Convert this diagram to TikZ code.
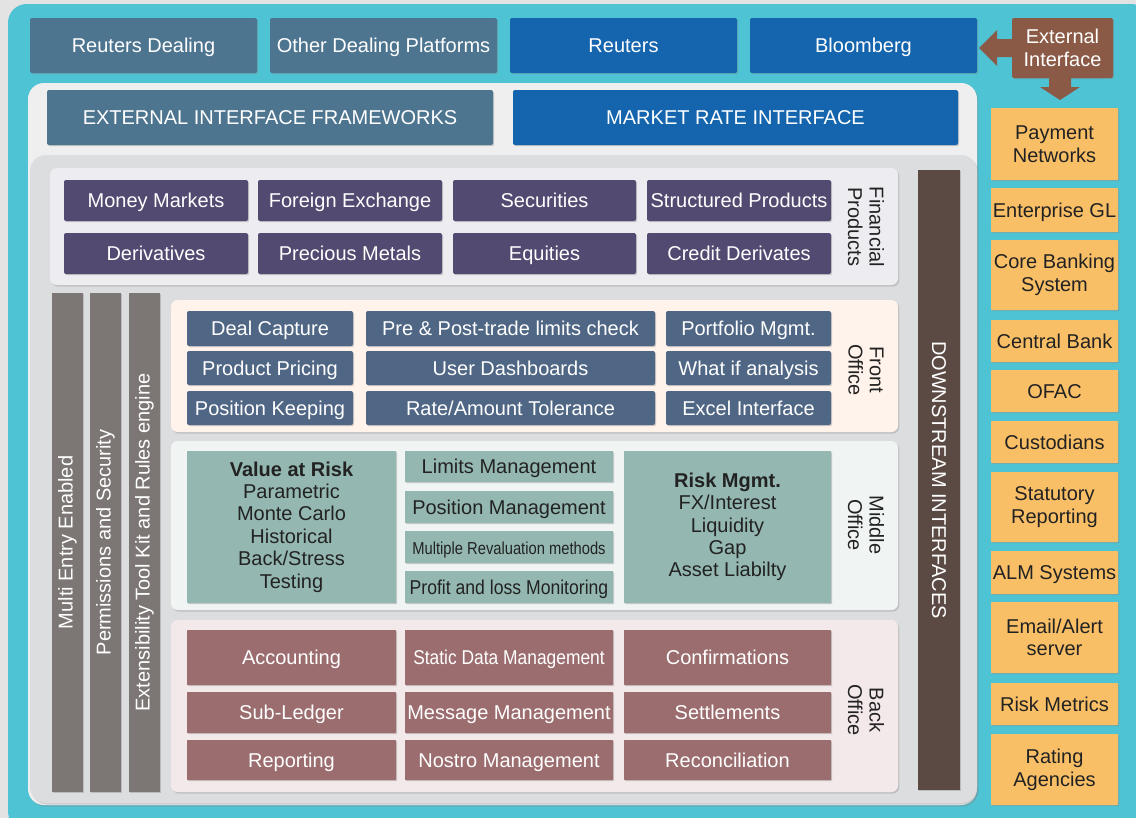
\documentclass[tikz,border=0pt]{standalone}
\usepackage{fontspec}
\usepackage{graphicx}
\setmainfont{Liberation Sans}
\usetikzlibrary{shadows}
\definecolor{bggray}{HTML}{E3E3E3}
\definecolor{cyanbg}{HTML}{4EC3D4}
\definecolor{steel}{HTML}{4E7590}
\definecolor{blueb}{HTML}{1565AE}
\definecolor{brownext}{HTML}{8A5A46}
\definecolor{panelwhite}{HTML}{EFEFF0}
\definecolor{panelgray}{HTML}{DCDDDF}
\definecolor{finpanel}{HTML}{ECECF1}
\definecolor{purpleb}{HTML}{524A70}
\definecolor{frontpanel}{HTML}{FFF3EB}
\definecolor{frontbox}{HTML}{506685}
\definecolor{midpanel}{HTML}{F0F4F3}
\definecolor{tealb}{HTML}{94B8B1}
\definecolor{backpanel}{HTML}{F3E9EB}
\definecolor{backbox}{HTML}{9B6D6F}
\definecolor{bargray}{HTML}{7C7774}
\definecolor{downbrown}{HTML}{5B4A44}
\definecolor{orangeb}{HTML}{F9BF67}
\definecolor{darktext}{HTML}{222222}
\newcommand\mybox[7]{\node[#1, minimum width={(#5-#3)*0.75pt}, minimum height={(#6-#4)*0.75pt}] (#2) at ({(#3+#5)/2},{(#4+#6)/2}) {#7};}
\tikzset{
  bx/.style={rectangle, rounded corners=1.5pt, inner sep=0pt, outer sep=0pt,
    text=white, font=\fontsize{15}{17}\selectfont, align=center,
    text height=10.7pt, text depth=0pt,
    drop shadow={shadow xshift=0.8pt, shadow yshift=-0.9pt, opacity=0.35}},
  ml/.style={text height=, text depth=},
  panel/.style={rectangle, rounded corners=5pt, inner sep=0pt, outer sep=0pt,
    drop shadow={shadow xshift=1pt, shadow yshift=-1.2pt, opacity=0.3}},
  plabel/.style={font=\fontsize{15}{16}\selectfont, text=darktext, align=center, inner sep=0pt},
  vlabel/.style={font=\fontsize{15}{17}\selectfont, text=white, inner sep=0pt},
}
\begin{document}
\begin{tikzpicture}[x=0.75pt,y=-0.75pt]
\useasboundingbox (0,0) rectangle (1136,818);
\fill[bggray] (0,0) rectangle (1136,818);
\fill[cyanbg, rounded corners=14pt] (8,4) rectangle (1150,830);
% top row
\mybox{bx, fill=steel}{rd}{30}{18}{257}{73}{Reuters Dealing}
\mybox{bx, fill=steel}{odp}{270}{18}{497}{73}{Other Dealing Platforms}
\mybox{bx, fill=blueb}{reu}{510}{18}{737}{73}{Reuters}
\mybox{bx, fill=blueb}{bbg}{750}{18}{977}{73}{Bloomberg}
\mybox{bx, ml, fill=brownext}{ext}{1012}{18}{1113}{78}{External\\Interface}
% arrows
\fill[brownext] (979,48) -- (997,30) -- (997,39) -- (1012,39) -- (1012,57) -- (997,57) -- (997,66) -- cycle;
\fill[brownext] (1049,78) -- (1071,78) -- (1071,87) -- (1080,87) -- (1060,100) -- (1040,87) -- (1049,87) -- cycle;
% panels
\mybox{panel, rounded corners=12pt, fill=panelwhite}{l2}{28}{83}{977}{805}{}
\mybox{bx, fill=steel}{eif}{47}{90}{493}{145}{EXTERNAL INTERFACE FRAMEWORKS}
\mybox{bx, fill=blueb}{mri}{513}{90}{958}{145}{MARKET RATE INTERFACE}
\mybox{panel, rounded corners=12pt, fill=panelgray}{l3}{30}{155}{977}{803}{}
% financial products
\mybox{panel, fill=finpanel}{finp}{50}{168}{898}{285}{}
\mybox{bx, fill=purpleb}{mm}{64}{180}{248}{221}{Money Markets}
\mybox{bx, fill=purpleb}{fx}{258}{180}{442}{221}{Foreign Exchange}
\mybox{bx, fill=purpleb}{sec}{453}{180}{636}{221}{Securities}
\mybox{bx, fill=purpleb}{sp}{647}{180}{831}{221}{Structured Products}
\mybox{bx, fill=purpleb}{der}{64}{233}{248}{274}{Derivatives}
\mybox{bx, fill=purpleb}{pm}{258}{233}{442}{274}{Precious Metals}
\mybox{bx, fill=purpleb}{eq}{453}{233}{636}{274}{Equities}
\mybox{bx, fill=purpleb}{cd}{647}{233}{831}{274}{Credit Derivates}
\node[plabel, rotate=-90] (finlab) at (866,227) {Financial\\Products};
% downstream bar
\mybox{bx, rounded corners=0pt, fill=downbrown}{down}{918}{170}{960}{790}{}
\node[vlabel, rotate=-90] (downlab) at (down.center) {DOWNSTREAM INTERFACES};
% vertical bars
\mybox{bx, rounded corners=0pt, fill=bargray}{bar1}{52}{293}{83}{792}{}
\mybox{bx, rounded corners=0pt, fill=bargray}{bar2}{90}{293}{121}{792}{}
\mybox{bx, rounded corners=0pt, fill=bargray}{bar3}{129}{293}{160}{792}{}
\node[vlabel, rotate=90] (b1lab) at (bar1.center) {Multi Entry Enabled};
\node[vlabel, rotate=90] (b2lab) at (bar2.center) {Permissions and Security};
\node[vlabel, rotate=90] (b3lab) at (bar3.center) {Extensibility Tool Kit and Rules engine};
% front office
\mybox{panel, fill=frontpanel}{front}{171}{300}{898}{432}{}
\mybox{bx, fill=frontbox}{dc}{187}{311}{353}{346}{Deal Capture}
\mybox{bx, fill=frontbox}{ppt}{366}{311}{655}{346}{Pre \& Post-trade limits check}
\mybox{bx, fill=frontbox}{pfm}{666}{311}{831}{346}{Portfolio Mgmt.}
\mybox{bx, fill=frontbox}{pp}{187}{351}{353}{385}{Product Pricing}
\mybox{bx, fill=frontbox}{ud}{366}{351}{655}{385}{User Dashboards}
\mybox{bx, fill=frontbox}{wia}{666}{351}{831}{385}{What if analysis}
\mybox{bx, fill=frontbox}{pk}{187}{391}{353}{425}{Position Keeping}
\mybox{bx, fill=frontbox}{rat}{366}{391}{655}{425}{Rate/Amount Tolerance}
\mybox{bx, fill=frontbox}{exi}{666}{391}{831}{425}{Excel Interface}
\node[plabel, rotate=-90] (frontlab) at (866,370) {Front\\Office};
% middle office
\mybox{panel, fill=midpanel}{middle}{171}{441}{898}{610}{}
\mybox{bx, ml, rounded corners=0.5pt, fill=tealb, text=darktext, font=\fontsize{15}{16.8}\selectfont}{var}{187}{451}{396}{603}{\textbf{Value at Risk}\\Parametric\\Monte Carlo\\Historical\\Back/Stress\\Testing}
\mybox{bx, rounded corners=0.5pt, fill=tealb, text=darktext}{lm}{405}{451}{613}{482}{Limits Management}
\mybox{bx, rounded corners=0.5pt, fill=tealb, text=darktext}{posm}{405}{491}{613}{523}{Position Management}
\mybox{bx, rounded corners=0.5pt, fill=tealb, text=darktext}{mrm}{405}{531}{613}{563}{\scalebox{0.85}[1]{\fontsize{13}{15}\selectfont Multiple Revaluation methods}}
\mybox{bx, rounded corners=0.5pt, fill=tealb, text=darktext}{plm}{405}{571}{613}{603}{\scalebox{0.88}[1]{Profit and loss Monitoring}}
\mybox{bx, ml, rounded corners=0.5pt, fill=tealb, text=darktext, font=\fontsize{15}{16.8}\selectfont}{rm}{624}{451}{831}{603}{\textbf{Risk Mgmt.}\\FX/Interest\\Liquidity\\Gap\\Asset Liabilty}
\node[plabel, rotate=-90] (midlab) at (866,525) {Middle\\Office};
% back office
\mybox{panel, fill=backpanel}{back}{171}{620}{898}{792}{}
\mybox{bx, rounded corners=0.5pt, fill=backbox}{acc}{187}{630}{396}{685}{Accounting}
\mybox{bx, rounded corners=0.5pt, fill=backbox}{sdm}{405}{630}{613}{685}{\scalebox{0.87}[1]{Static Data Management}}
\mybox{bx, rounded corners=0.5pt, fill=backbox}{conf}{624}{630}{831}{685}{Confirmations}
\mybox{bx, rounded corners=0.5pt, fill=backbox}{subl}{187}{692}{396}{733}{Sub-Ledger}
\mybox{bx, rounded corners=0.5pt, fill=backbox}{msg}{405}{692}{613}{733}{Message Management}
\mybox{bx, rounded corners=0.5pt, fill=backbox}{sett}{624}{692}{831}{733}{Settlements}
\mybox{bx, rounded corners=0.5pt, fill=backbox}{rep}{187}{740}{396}{780}{Reporting}
\mybox{bx, rounded corners=0.5pt, fill=backbox}{nos}{405}{740}{613}{780}{Nostro Management}
\mybox{bx, rounded corners=0.5pt, fill=backbox}{rec}{624}{740}{831}{780}{Reconciliation}
\node[plabel, rotate=-90] (backlab) at (866,710) {Back\\Office};
% right column
\tikzset{ob/.style={bx, rounded corners=0.5pt, fill=orangeb, text=darktext}}
\mybox{ob, ml}{payn}{991}{108}{1118}{180}{Payment\\Networks}
\mybox{ob}{egl}{991}{188}{1118}{232}{Enterprise GL}
\mybox{ob, ml}{cbs}{991}{240}{1118}{310}{Core Banking\\System}
\mybox{ob}{cb}{991}{320}{1118}{362}{Central Bank}
\mybox{ob}{ofac}{991}{370}{1118}{412}{OFAC}
\mybox{ob}{cust}{991}{421}{1118}{463}{Custodians}
\mybox{ob, ml}{stat}{991}{472}{1118}{542}{Statutory\\Reporting}
\mybox{ob}{alm}{991}{551}{1118}{594}{ALM Systems}
\mybox{ob, ml}{email}{991}{602}{1118}{673}{Email/Alert\\server}
\mybox{ob}{rmet}{991}{683}{1118}{725}{Risk Metrics}
\mybox{ob, ml}{ratg}{991}{734}{1118}{805}{Rating\\Agencies}
\end{tikzpicture}
\end{document}
